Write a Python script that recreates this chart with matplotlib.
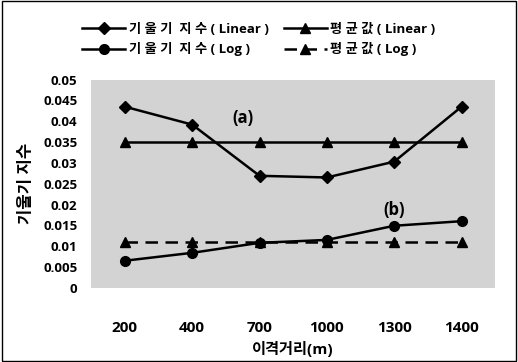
import matplotlib.pyplot as plt
from matplotlib.patches import Rectangle

plt.rcParams['font.family'] = ['Open Sans', 'Noto Sans CJK KR', 'DejaVu Sans']
plt.rcParams['axes.unicode_minus'] = False

# 이격거리별 기울기 지수
distances = ['200', '400', '700', '1000', '1300', '1400']
slope_linear = [0.0435, 0.0392, 0.0269, 0.0265, 0.0303, 0.0435]
mean_linear = [0.035, 0.035, 0.035, 0.035, 0.035, 0.035]
slope_log = [0.0065, 0.0084, 0.0108, 0.0115, 0.0149, 0.0160]
mean_log = [0.0111, 0.0111, 0.0111, 0.0111, 0.0111, 0.0111]
yticks = [0, 0.005, 0.01, 0.015, 0.02, 0.025, 0.03, 0.035, 0.04, 0.045, 0.05]
ytick_labels = ['0', '0.005', '0.01', '0.015', '0.02', '0.025', '0.03',
                '0.035', '0.04', '0.045', '0.05']

fig = plt.figure(figsize=(5.18, 3.62), dpi=100)
ax = fig.add_axes([0.176, 0.205, 0.780, 0.575])
ax.set_facecolor('#d3d3d3')

x = range(len(distances))
l1, = ax.plot(x, slope_linear, color='black', lw=1.8, marker='D', ms=6)
l2, = ax.plot(x, mean_linear, color='black', lw=1.8, marker='^', ms=7)
l3, = ax.plot(x, slope_log, color='black', lw=1.8, marker='o', ms=7)
l4, = ax.plot(x, mean_log, color='black', lw=1.8, ls=(0, (5, 3)), marker='^', ms=7)

ax.text(1.75, 0.0408, '(a)', fontsize=12, fontweight='bold', ha='center', va='center')
ax.text(4.0, 0.0188, '(b)', fontsize=12, fontweight='bold', ha='center', va='center')

ax.set_xlim(-0.5, len(distances) - 0.5)
ax.set_ylim(0, 0.05)
ax.set_xticks(list(x))
ax.set_xticklabels(distances, fontsize=11, fontweight='bold')
ax.set_yticks(yticks)
ax.set_yticklabels(ytick_labels, fontsize=9.5, fontweight='bold')
ax.tick_params(axis='x', length=0, pad=24)
ax.tick_params(axis='y', length=0, pad=10)
for s in ax.spines.values():
    s.set_visible(False)

ax.set_xlabel('이격거리(m)', fontsize=11, fontweight='bold', labelpad=4)
ax.set_ylabel('기울기 지수', fontsize=12, fontweight='heavy', labelpad=6)

# 범례: 윗줄 Linear, 아랫줄 Log
fig.legend([l1, l3, l2, l4],
           ['기 울 기  지 수 ( Linear )', '기 울 기  지 수 ( Log )',
            '평 균 값 ( Linear )', '평 균 값 ( Log )'],
           loc='upper center', bbox_to_anchor=(0.50, 0.97), ncol=2, frameon=False,
           prop={'weight': 'bold', 'size': 9.5}, handlelength=3.2,
           columnspacing=1.2, handletextpad=0.3, labelspacing=0.5)

# 바깥 테두리
fig.patches.append(Rectangle((0.004, 0.004), 0.992, 0.992, transform=fig.transFigure,
                             fill=False, edgecolor='black', lw=1.0))

fig.savefig('out.png', dpi=100)
